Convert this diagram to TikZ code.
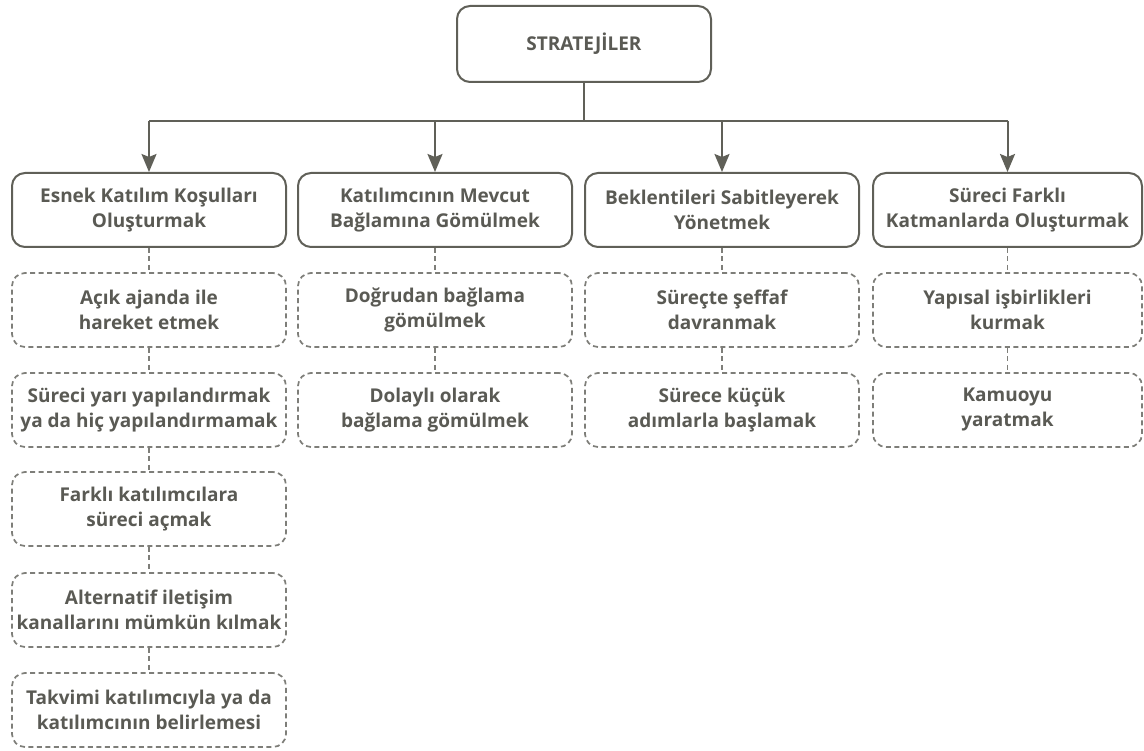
\documentclass[tikz,border=0pt]{standalone}
\usepackage{fontspec}
\setmainfont{Open Sans}
\usetikzlibrary{arrows.meta}
\definecolor{ln}{HTML}{606058}
\definecolor{dl}{HTML}{7E7E79}
\definecolor{tx}{HTML}{5A5A54}
\tikzset{
  txt/.style={align=center, text=tx, font=\bfseries\fontsize{19}{25}\selectfont, inner sep=0pt},
  topbox/.style={txt, draw=ln, line width=2pt, rounded corners=13pt, minimum width=254pt, minimum height=76pt},
  mainbox/.style={txt, draw=ln, line width=2pt, rounded corners=13pt, minimum width=274pt, minimum height=74pt},
  subbox/.style={txt, draw=dl, line width=1.7pt, dash pattern=on 5pt off 3.5pt, rounded corners=13pt, minimum width=274pt, minimum height=74pt},
  conn/.style={draw=ln, line width=2pt},
  arr/.style={conn, -{Stealth[length=18pt, width=15pt, inset=3pt]}},
  dconn/.style={draw=dl, line width=1.7pt, dash pattern=on 5pt off 3.5pt}
}
\begin{document}
\begin{tikzpicture}[x=1pt, y=-1pt]
\useasboundingbox[fill=white] (0,0) rectangle (1144,751);
\node[topbox] (top) at (584,44) {STRATEJİLER};
\node[mainbox] (m1) at (149,210) {Esnek Katılım Koşulları\\Oluşturmak};
\node[mainbox] (m2) at (435,210) {Katılımcının Mevcut\\Bağlamına Gömülmek};
\node[mainbox] (m3) at (722,210) {Beklentileri Sabitleyerek\\Yönetmek};
\node[mainbox, minimum width=269pt] (m4) at (1007.5,210) {Süreci Farklı\\Katmanlarda Oluşturmak};

\node[subbox] (a1) at (149,310) {Açık ajanda ile\\hareket etmek};
\node[subbox] (a2) at (149,410) {Süreci yarı yapılandırmak\\ya da hiç yapılandırmamak};
\node[subbox] (a3) at (149,509) {Farklı katılımcılara\\süreci açmak};
\node[subbox] (a4) at (149,610) {Alternatif iletişim\\kanallarını mümkün kılmak};
\node[subbox] (a5) at (149,710) {Takvimi katılımcıyla ya da\\katılımcının belirlemesi};

\node[subbox] (b1) at (435,310) {Doğrudan bağlama\\gömülmek};
\node[subbox] (b2) at (435,410) {Dolaylı olarak\\bağlama gömülmek};

\node[subbox] (c1) at (722,310) {Süreçte şeffaf\\davranmak};
\node[subbox] (c2) at (722,410) {Sürece küçük\\adımlarla başlamak};

\node[subbox, minimum width=269pt] (d1) at (1007.5,310) {Yapısal işbirlikleri\\kurmak};
\node[subbox, minimum width=269pt] (d2) at (1007.5,410) {Kamuoyu\\yaratmak};

\coordinate (bar) at (584,121);
\draw[conn] (top.south) -- (bar);
\draw[conn] (bar -| m1.north) -- (bar -| m4.north);
\foreach \n in {m1,m2,m3,m4} \draw[arr] (bar -| \n.north) -- (\n.north);

\draw[dconn] (m1.south) -- (a1.north);
\draw[dconn] (a1.south) -- (a2.north);
\draw[dconn] (a2.south) -- (a3.north);
\draw[dconn] (a3.south) -- (a4.north);
\draw[dconn] (a4.south) -- (a5.north);
\draw[dconn] (m2.south) -- (b1.north);
\draw[dconn] (b1.south) -- (b2.north);
\draw[dconn] (m3.south) -- (c1.north);
\draw[dconn] (c1.south) -- (c2.north);
\draw[dconn] (m4.south) -- (d1.north);
\draw[dconn] (d1.south) -- (d2.north);
\end{tikzpicture}
\end{document}
